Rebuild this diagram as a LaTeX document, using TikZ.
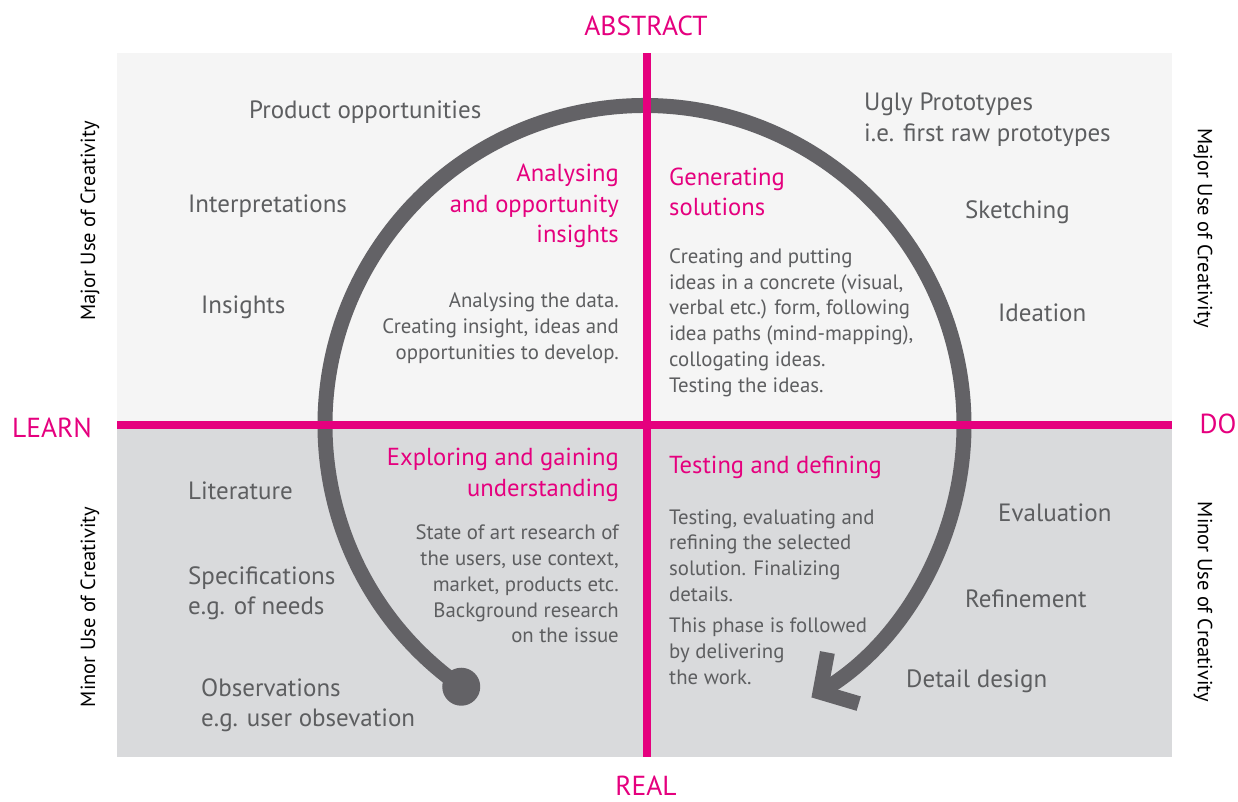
\documentclass[tikz,border=0pt]{standalone}
\usepackage{fontspec}
\setmainfont{PT Sans}
\usetikzlibrary{arrows.meta,calc}
\definecolor{pinkline}{HTML}{E5007E}
\definecolor{loopgray}{HTML}{636266}
\definecolor{txtgray}{HTML}{5D5E60}
\definecolor{toppanel}{HTML}{F5F5F5}
\definecolor{lowpanel}{HTML}{D9DADC}
\tikzset{
  axisname/.style={text=pinkline, font=\fontsize{27.5}{32}\selectfont, inner sep=0pt},
  sidename/.style={text=black, font=\fontsize{20.5}{24}\selectfont, inner sep=0pt},
  itemtext/.style={text=txtgray, font=\fontsize{25}{30.5}\selectfont, align=left, anchor=west, inner sep=0pt},
  phasehead/.style={text=pinkline, font=\fontsize{24.6}{30.5}\selectfont, inner sep=0pt},
  phasebody/.style={text=txtgray, font=\fontsize{20.8}{25.8}\selectfont, inner sep=0pt},
  quadline/.style={draw=pinkline, line width=8.5pt},
  loopline/.style={draw=loopgray, line width=15pt}
}
\begin{document}
\begin{tikzpicture}[x=1pt,y=1pt]
\useasboundingbox (0,0) rectangle (1238,-801);
\fill[toppanel] (117,-53) rectangle (1172,-425);
\fill[lowpanel] (117,-425) rectangle (1172,-757);

\coordinate (hub) at (644.5,-425);
\node[circle, fill=loopgray, minimum size=38pt, inner sep=0pt] (start) at ($(hub)+(235:319.5)$) {};
\draw[loopline, -{Straight Barb[length=27pt,width=60pt,sharp]}] (start.center) arc[start angle=235, end angle=-58.5, radius=319.5];

\draw[quadline] (117,-425) -- (1172,-425);
\draw[quadline] (647,-53) -- (647,-757);

\node[axisname, anchor=base] (abstract) at (646,-35) {ABSTRACT};
\node[axisname, anchor=base] (real) at (646,-795) {REAL};
\node[axisname] (learn) at (52,-428) {LEARN};
\node[axisname] (do) at (1218,-424) {DO};

\node[sidename, rotate=90] (majorl) at (90,-221) {Major Use of Creativity};
\node[sidename, rotate=90] (minorl) at (90,-607) {Minor Use of Creativity};
\node[sidename, rotate=-90] (majorr) at (1203,-228) {Major Use of Creativity};
\node[sidename, rotate=-90] (minorr) at (1203,-602) {Minor Use of Creativity};

\node[itemtext] (prodopp) at (249,-112) {Product opportunities};
\node[itemtext] (interp) at (188,-206) {Interpretations};
\node[itemtext] (insights) at (201,-307) {Insights};
\node[itemtext] (literature) at (188,-491) {Literature};
\node[itemtext] (specs) at (188,-593) {Specifications\\e.g. of needs};
\node[itemtext] (observ) at (201,-705) {Observations\\e.g. user obsevation};
\node[itemtext] (ugly) at (864,-119.5) {Ugly Prototypes\\i.e. first raw prototypes};
\node[itemtext] (sketch) at (965,-212) {Sketching};
\node[itemtext] (ideation) at (998,-313) {Ideation};
\node[itemtext] (evaluation) at (998,-513) {Evaluation};
\node[itemtext] (refinement) at (965,-599) {Refinement};
\node[itemtext] (detail) at (906,-681) {Detail design};

\node[phasehead, align=right, anchor=east] (analysing) at (619,-206) {Analysing\\and opportunity\\insights};
\node[phasehead, align=left, anchor=west] (generating) at (669,-192) {Generating\\solutions};
\node[phasehead, align=right, anchor=east] (exploring) at (619,-475) {Exploring and gaining\\understanding};
\node[phasehead, align=left, anchor=west] (testing) at (669,-467) {Testing and defining};

\node[phasebody, align=right, anchor=east] (analysetext) at (619,-328) {Analysing the data.\\Creating insight, ideas and\\opportunities to develop.};
\node[phasebody, align=left, anchor=west] (generatetext) at (669,-322.5) {Creating and putting\\ideas in a concrete (visual,\\verbal etc.) form, following\\idea paths (mind-mapping),\\collogating ideas.\\Testing the ideas.};
\node[phasebody, align=right, anchor=east] (exploretext) at (619,-584) {State of art research of\\the users, use context,\\market, products etc.\\Background research\\on the issue};
\node[phasebody, align=left, anchor=west] (testtext) at (669,-555.5) {Testing, evaluating and\\refining the selected\\solution. Finalizing\\details.};
\node[phasebody, align=left, anchor=west] (followtext) at (669,-651) {This phase is followed\\by delivering\\the work.};
\end{tikzpicture}
\end{document}
